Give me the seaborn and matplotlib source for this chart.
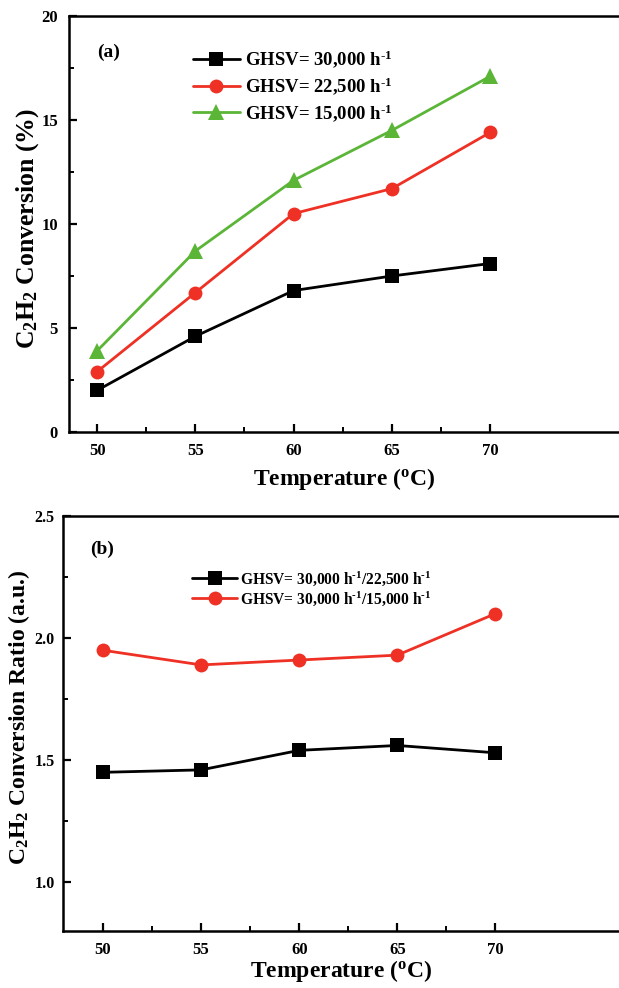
import matplotlib
matplotlib.use("Agg")
import matplotlib.pyplot as plt
from matplotlib.ticker import MultipleLocator, FixedLocator
import seaborn as sns
import pandas as pd

# ---- data ----
temperature = [50, 55, 60, 65, 70]
conv_30000 = [2.0, 4.6, 6.8, 7.5, 8.1]
conv_22500 = [2.9, 6.7, 10.5, 11.7, 14.4]
conv_15000 = [3.9, 8.7, 12.1, 14.5, 17.1]
ratio_30000_22500 = [1.45, 1.46, 1.54, 1.56, 1.53]
ratio_30000_15000 = [1.95, 1.89, 1.91, 1.93, 2.10]

labels_a = [r"GHSV= 30,000 h$^{\text{-1}}$", r"GHSV= 22,500 h$^{\text{-1}}$",
            r"GHSV= 15,000 h$^{\text{-1}}$"]
labels_b = [r"GHSV= 30,000 h$^{\text{-1}}$/22,500 h$^{\text{-1}}$",
            r"GHSV= 30,000 h$^{\text{-1}}$/15,000 h$^{\text{-1}}$"]

sns.set_theme(style="white")
plt.rcParams["font.family"] = ["Liberation Serif", "DejaVu Serif"]
plt.rcParams["font.weight"] = "bold"
plt.rcParams["text.color"] = "black"
plt.rcParams["axes.labelcolor"] = "black"
plt.rcParams["xtick.color"] = "black"
plt.rcParams["ytick.color"] = "black"
plt.rcParams["mathtext.fontset"] = "custom"
plt.rcParams["mathtext.rm"] = "Liberation Serif:bold"
plt.rcParams["mathtext.it"] = "Liberation Serif:bold"
plt.rcParams["mathtext.bf"] = "Liberation Serif:bold"
plt.rcParams["mathtext.default"] = "regular"

BLACK = "#000000"
RED = "#EE3124"
GREEN = "#5BB537"

fig = plt.figure(figsize=(6.19, 9.88), dpi=100)
ax1 = fig.add_axes([69 / 619, (988 - 432) / 988, 1 - 69 / 619, 416 / 988])
ax2 = fig.add_axes([63 / 619, (988 - 931) / 988, 1 - 63 / 619, 415 / 988])

df_a = pd.DataFrame({
    "T": temperature * 3,
    "val": conv_30000 + conv_22500 + conv_15000,
    "series": [labels_a[0]] * 5 + [labels_a[1]] * 5 + [labels_a[2]] * 5,
})
df_b = pd.DataFrame({
    "T": temperature * 2,
    "val": ratio_30000_22500 + ratio_30000_15000,
    "series": [labels_b[0]] * 5 + [labels_b[1]] * 5,
})

markers_a = ["s", "o", "^"]
colors_a = [BLACK, RED, GREEN]
sizes_a = [9.5, 10, 11]
for lab, m, c, s in zip(labels_a, markers_a, colors_a, sizes_a):
    sub = df_a[df_a["series"] == lab]
    sns.lineplot(data=sub, x="T", y="val", ax=ax1, color=c, marker=m,
                 markersize=s, markeredgewidth=0, linewidth=2.0, label=lab)

markers_b = ["s", "o"]
colors_b = [BLACK, RED]
sizes_b = [9.5, 10]
for lab, m, c, s in zip(labels_b, markers_b, colors_b, sizes_b):
    sub = df_b[df_b["series"] == lab]
    sns.lineplot(data=sub, x="T", y="val", ax=ax2, color=c, marker=m,
                 markersize=s, markeredgewidth=0, linewidth=2.0, label=lab)

ax1.set_xlim(48.57, 76.56)
ax1.set_ylim(0, 20)
ax2.set_xlim(47.96, 76.3)
ax2.set_ylim(0.8, 2.5)

ax1.yaxis.set_major_locator(MultipleLocator(5))
ax1.yaxis.set_minor_locator(MultipleLocator(2.5))
ax2.yaxis.set_major_locator(MultipleLocator(0.5))
ax2.yaxis.set_minor_locator(MultipleLocator(0.25))

for ax in (ax1, ax2):
    ax.set_xticks(temperature)
    ax.xaxis.set_minor_locator(FixedLocator([52.5, 57.5, 62.5, 67.5]))
    ax.set_xticklabels([str(t) for t in temperature])
    for sp in ["left", "bottom", "top"]:
        ax.spines[sp].set_visible(True)
        ax.spines[sp].set_color("black")
        ax.spines[sp].set_linewidth(1.8)
    ax.spines["right"].set_visible(False)
    ax.tick_params(axis="both", which="major", direction="in", length=6, width=1.6,
                   labelsize=12, bottom=True, left=True, top=False, right=False,
                   colors="black", pad=8)
    ax.tick_params(axis="both", which="minor", direction="in", length=3.5, width=1.4,
                   bottom=True, left=True, top=False, right=False)
    for t in ax.get_xticklabels() + ax.get_yticklabels():
        t.set_fontweight("bold")

ax2.tick_params(axis="y", which="major", labelsize=11.5, pad=6)

ax1.set_xlabel(r"Temperature ($^{o}$C)", fontsize=17, fontweight="bold", labelpad=5)
ax2.set_xlabel(r"Temperature ($^{o}$C)", fontsize=17, fontweight="bold", labelpad=0)

ax1.set_ylabel(r"C$_{2}$H$_{2}$ Conversion (%)", fontsize=18.5, fontweight="bold")
ax2.set_ylabel(r"C$_{2}$H$_{2}$ Conversion Ratio (a.u.)", fontsize=17, fontweight="bold")
ax1.yaxis.set_label_coords(-0.051, 0.49)
ax2.yaxis.set_label_coords(-0.056, 0.515)

ax1.text(0.051, 0.913, "(a)", transform=ax1.transAxes, fontsize=14,
         fontweight="bold", va="center", ha="left")
ax2.text(0.049, 0.92, "(b)", transform=ax2.transAxes, fontsize=14,
         fontweight="bold", va="center", ha="left")

leg1 = ax1.legend(loc="upper left", bbox_to_anchor=(0.225, 0.922), frameon=False,
                  fontsize=13.5, handlelength=2.5, handletextpad=0.3,
                  labelspacing=0.25, borderaxespad=0, borderpad=0)
leg2 = ax2.legend(loc="upper left", bbox_to_anchor=(0.232, 0.872), frameon=False,
                  fontsize=11.2, handlelength=2.9, handletextpad=0.2,
                  labelspacing=0.1, borderaxespad=0, borderpad=0)
for leg in (leg1, leg2):
    for t in leg.get_texts():
        t.set_fontweight("bold")

fig.savefig("out.png", dpi=100)
